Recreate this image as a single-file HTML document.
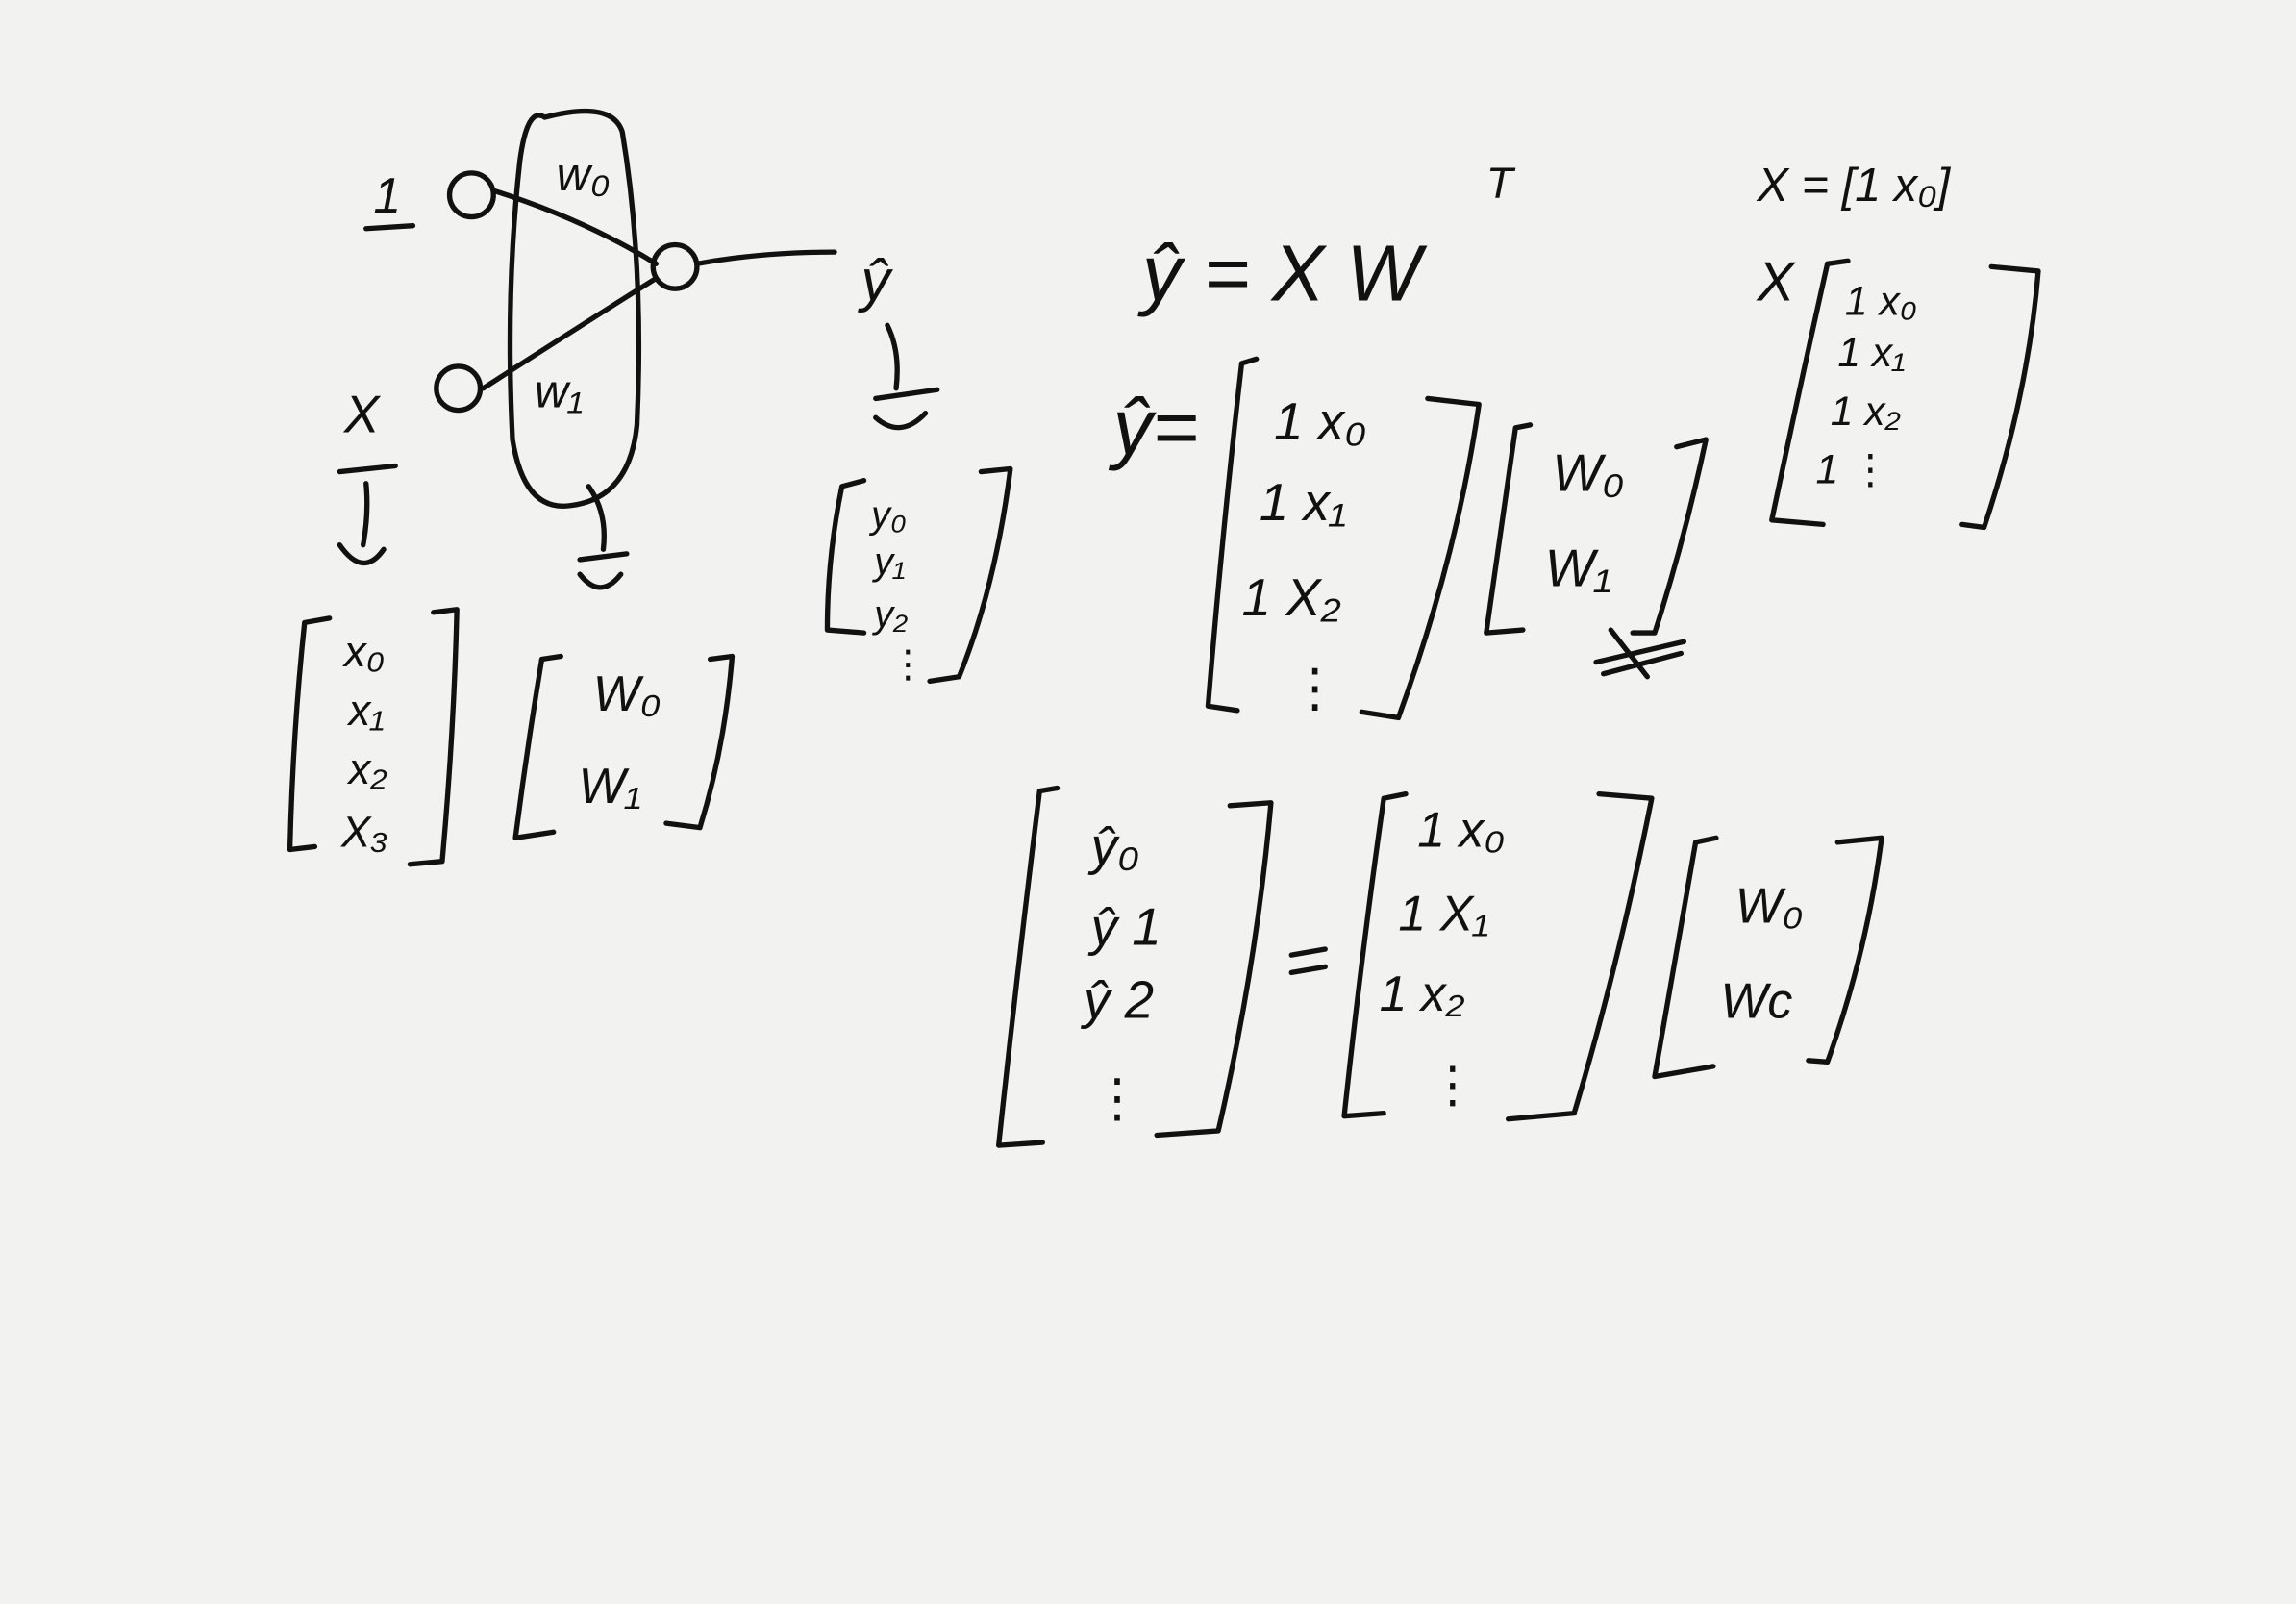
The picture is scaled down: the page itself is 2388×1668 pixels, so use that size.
<!DOCTYPE html>
<html><head><meta charset="utf-8">
<style>
html,body{margin:0;padding:0;background:#f2f2f1;}
svg{display:block;}
text{font-family:"Liberation Sans","DejaVu Sans",sans-serif;fill:#111;font-style:italic;}
.s{fill:none;stroke:#111;stroke-width:3.5;stroke-linecap:round;stroke-linejoin:round;}
</style></head>
<body>
<svg width="2388" height="1668" viewBox="0 0 1568 1095">
<rect width="1568" height="1095" fill="#f2f2f1"/>

<g>
  <text x="255" y="145" font-size="34">1</text>
  <path class="s" d="M250 156 L282 154"/>
  <circle class="s" cx="322" cy="133" r="15"/>
  <circle class="s" cx="313" cy="265" r="15"/>
  <path class="s" d="M372 80 Q360 72 355 110 Q345 200 350 300 Q358 350 390 345 Q430 340 435 290 Q440 180 425 90 Q418 68 372 80"/>
  <text x="380" y="130" font-size="32">w₀</text>
  <text x="365" y="278" font-size="32">w₁</text>
  <path class="s" d="M337 130 Q400 150 448 180"/>
  <path class="s" d="M330 265 Q400 220 448 190"/>
  <circle class="s" cx="461" cy="182" r="15"/>
  <path class="s" d="M476 180 Q520 172 570 172"/>
  <text x="588" y="205" font-size="40">ŷ</text>
  <path class="s" d="M606 222 Q615 240 612 265 M598 272 L640 266 M598 285 Q615 300 632 282"/>
  <text x="235" y="295" font-size="36">X</text>
  <path class="s" d="M232 322 L270 318 M250 330 Q252 350 248 372 M232 372 Q248 395 262 375"/>
  <path class="s" d="M402 332 Q415 350 412 375 M396 382 L428 378 M396 392 Q410 410 424 392"/>
</g>

<g>
  <path class="s" d="M225 422 L208 425 Q200 500 198 580 L215 578"/>
  <path class="s" d="M296 418 L312 416 Q310 500 302 588 L280 590"/>
  <text x="235" y="455" font-size="30">x₀</text>
  <text x="238" y="495" font-size="30">x₁</text>
  <text x="238" y="535" font-size="30">x₂</text>
  <text x="233" y="578" font-size="30">X₃</text>
</g>

<g>
  <path class="s" d="M383 448 L370 450 Q360 510 352 572 L378 568"/>
  <path class="s" d="M485 450 L500 448 Q495 510 478 565 L455 562"/>
  <text x="405" y="485" font-size="34">W₀</text>
  <text x="395" y="548" font-size="34">W₁</text>
</g>

<g>
  <path class="s" d="M590 328 L575 332 Q565 380 565 430 L590 432"/>
  <path class="s" d="M670 322 L690 320 Q680 400 655 462 L635 465"/>
  <text x="595" y="360" font-size="26">y₀</text>
  <text x="597" y="392" font-size="26">y₁</text>
  <text x="597" y="428" font-size="26">y₂</text>
  <text x="607" y="462" font-size="26">⋮</text>
</g>

<g>
  <text x="780" y="205" font-size="54">ŷ = X W</text>
  <text x="1015" y="135" font-size="30">T</text>
</g>

<g>
  <text x="1200" y="137" font-size="32">X = [1 x₀]</text>
  <text x="1200" y="205" font-size="38">X</text>
  <path class="s" d="M1262 178 L1248 180 Q1230 260 1210 355 L1245 358"/>
  <path class="s" d="M1360 182 L1392 185 Q1385 270 1355 360 L1340 358"/>
  <text x="1260" y="215" font-size="28">1  x₀</text>
  <text x="1255" y="250" font-size="28">1  x₁</text>
  <text x="1250" y="290" font-size="28">1  x₂</text>
  <text x="1240" y="330" font-size="28">1   ⋮</text>
</g>

<g>
  <text x="760" y="310" font-size="54">ŷ=</text>
  <path class="s" d="M858 245 L848 248 Q835 360 825 482 L845 485"/>
  <path class="s" d="M975 272 L1010 276 Q995 380 955 490 L930 486"/>
  <text x="870" y="300" font-size="36">1  x₀</text>
  <text x="860" y="355" font-size="36">1  x₁</text>
  <text x="848" y="420" font-size="36">1  X₂</text>
  <text x="880" y="482" font-size="36">⋮</text>
  <path class="s" d="M1045 290 L1035 292 Q1025 360 1015 432 L1040 430"/>
  <path class="s" d="M1145 305 L1165 300 Q1150 370 1130 432 L1115 432"/>
  <text x="1060" y="335" font-size="36">W₀</text>
  <text x="1055" y="400" font-size="36">W₁</text>
  <path class="s" d="M1090 452 L1150 438 M1095 460 L1148 446 M1100 430 L1125 462"/>
</g>

<g>
  <path class="s" d="M722 538 L710 540 Q695 660 682 782 L712 780"/>
  <path class="s" d="M840 550 L868 548 Q858 660 832 772 L790 775"/>
  <text x="745" y="590" font-size="36">ŷ₀</text>
  <text x="745" y="645" font-size="36">ŷ 1</text>
  <text x="740" y="695" font-size="36">ŷ 2</text>
  <text x="745" y="762" font-size="36">⋮</text>
  <path class="s" d="M882 652 L905 648 M882 664 L905 660"/>
  <path class="s" d="M960 542 L945 545 Q930 650 918 762 L945 760"/>
  <path class="s" d="M1092 542 L1128 545 Q1105 660 1075 760 L1030 764"/>
  <text x="968" y="578" font-size="34">1  x₀</text>
  <text x="955" y="635" font-size="34">1  X₁</text>
  <text x="942" y="690" font-size="34">1  x₂</text>
  <text x="975" y="752" font-size="34">⋮</text>
  <path class="s" d="M1172 572 L1158 575 Q1145 650 1130 735 L1170 728"/>
  <path class="s" d="M1255 575 L1285 572 Q1275 650 1248 725 L1235 724"/>
  <text x="1185" y="630" font-size="34">W₀</text>
  <text x="1175" y="695" font-size="34">Wc</text>
</g>
</svg>
</body></html>
